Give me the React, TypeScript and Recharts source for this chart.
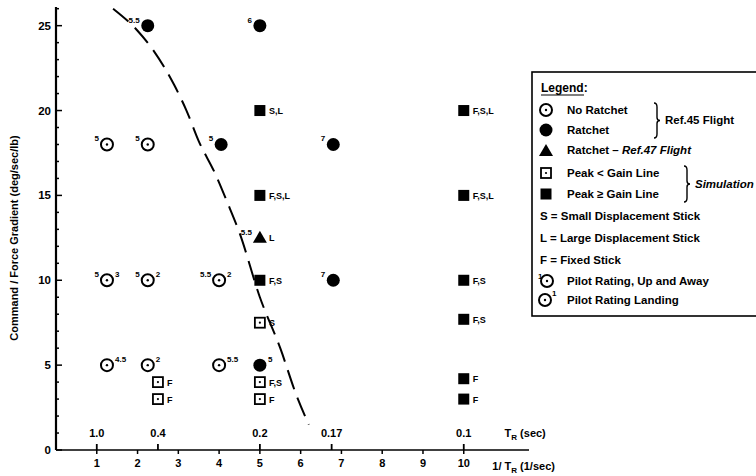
import React from 'react';
import {
  ComposedChart,
  Scatter,
  Line,
  XAxis,
  YAxis,
  ReferenceDot
} from 'recharts';

// Ref.45 flight, no ratchet
const noRatchetX = [1.25, 2.25, 1.25, 2.25, 4.0, 1.25, 2.25, 4.0];
const noRatchetY = [18, 18, 10, 10, 10, 5, 5, 5];
const noRatchetUp = ['5', '5', '5', '5', '5.5', '', '', ''];
const noRatchetLanding = ['', '', '3', '2', '2', '4.5', '2', '5.5'];

// Ref.45 flight, ratchet
const ratchetX = [2.25, 5.0, 4.05, 6.8, 6.8, 5.0];
const ratchetY = [25, 25, 18, 18, 10, 5];
const ratchetUp = ['5.5', '6', '5', '7', '7', ''];
const ratchetLanding = ['', '', '', '', '', '5'];

// Ref.47 flight, ratchet
const ref47X = [5.0];
const ref47Y = [12.5];
const ref47Up = ['5.5'];
const ref47Stick = ['L'];

// simulation, peak < gain line
const peakBelowX = [2.5, 2.5, 5.0, 5.0, 5.0];
const peakBelowY = [4, 3, 7.5, 4, 3];
const peakBelowStick = ['F', 'F', 'S', 'F,S', 'F'];

// simulation, peak >= gain line
const peakAboveX = [5.0, 5.0, 5.0, 10, 10, 10, 10, 10, 10];
const peakAboveY = [20, 15, 10, 20, 15, 10, 7.7, 4.2, 3];
const peakAboveStick = ['S,L', 'F,S,L', 'F,S', 'F,S,L', 'F,S,L', 'F,S', 'F,S', 'F', 'F'];

// dashed boundary
const boundaryX = [1.4, 2.0, 2.4, 2.9, 3.2, 3.5, 3.9, 4.2, 4.5, 5.0, 5.5, 5.9, 6.2];
const boundaryY = [26, 24.7, 23.5, 21.5, 20, 18.2, 16.3, 14.6, 12.8, 9, 6, 3.2, 1.5];

const xTicks = [1, 2, 3, 4, 5, 6, 7, 8, 9, 10];
const yTicks = Array.from({ length: 27 }, (_, i) => i);
const trTickX = [1, 2.5, 5, 6.76, 10];
const trTickLabels = ['1.0', '0.4', '0.2', '0.17', '0.1'];

const FONT = '"Liberation Sans", Arial, sans-serif';

const toPoints = (xs: number[], ys: number[], left: string[], right: string[]) =>
  xs.map((x, i) => ({ x, y: ys[i], left: left[i] || '', right: right[i] || '' }));

const noRatchetData = toPoints(noRatchetX, noRatchetY, noRatchetUp, noRatchetLanding);
const ratchetData = toPoints(ratchetX, ratchetY, ratchetUp, ratchetLanding);
const ref47Data = toPoints(ref47X, ref47Y, ref47Up, ref47Stick);
const peakBelowData = toPoints(peakBelowX, peakBelowY, [], peakBelowStick);
const peakAboveData = toPoints(peakAboveX, peakAboveY, [], peakAboveStick);
const boundaryData = boundaryX.map((x, i) => ({ x, y: boundaryY[i] }));

const Symbol = ({ kind, cx, cy }: { kind: string; cx: number; cy: number }) => {
  switch (kind) {
    case 'openCircle':
      return (
        <g>
          <circle cx={cx} cy={cy} r={6} fill="#fff" stroke="#000" strokeWidth={2} />
          <circle cx={cx} cy={cy} r={1.2} fill="#000" />
        </g>
      );
    case 'circle':
      return <circle cx={cx} cy={cy} r={6.5} fill="#000" />;
    case 'triangle':
      return <polygon points={`${cx},${cy - 7} ${cx - 7},${cy + 5} ${cx + 7},${cy + 5}`} fill="#000" />;
    case 'openSquare':
      return (
        <g>
          <rect x={cx - 5} y={cy - 5} width={10} height={10} fill="#fff" stroke="#000" strokeWidth={1.8} />
          <circle cx={cx} cy={cy} r={1.1} fill="#000" />
        </g>
      );
    default:
      return <rect x={cx - 5.5} y={cy - 5.5} width={11} height={11} fill="#000" />;
  }
};

const makeShape = (kind: string, rightMode: 'sup' | 'mid') => (props: any) => {
  const { cx, cy, payload } = props;
  if (cx == null || cy == null) return <g />;
  return (
    <g>
      <Symbol kind={kind} cx={cx} cy={cy} />
      {payload.left ? (
        <text x={cx - 8} y={cy - 3} textAnchor="end" fontSize={8} fontWeight="bold" fontFamily={FONT}>
          {payload.left}
        </text>
      ) : null}
      {payload.right ? (
        rightMode === 'sup' ? (
          <text x={cx + 8} y={cy - 3} fontSize={8} fontWeight="bold" fontFamily={FONT}>
            {payload.right}
          </text>
        ) : (
          <text x={cx + 9} y={cy + 3.5} fontSize={9} fontWeight="bold" fontFamily={FONT}>
            {payload.right}
          </text>
        )
      ) : null}
    </g>
  );
};

// ticks sit on the inside of the axis, labels hug it from the left
const YTick = (props: any) => {
  const { x, y, payload } = props;
  const major = payload.value % 5 === 0;
  return (
    <g>
      <line x1={x} x2={x + (major ? 6 : 3)} y1={y} y2={y} stroke="#000" strokeWidth={1.5} />
      {major ? (
        <text x={x - 5} y={y + 4} textAnchor="end" fontSize={11.5} fontWeight="bold" fontFamily={FONT}>
          {payload.value}
        </text>
      ) : null}
    </g>
  );
};

const textMark = (content: React.ReactNode, anchor: string = 'middle') => (props: any) => (
  <text x={props.cx} y={props.cy + 4} textAnchor={anchor} fontSize={11} fontWeight="bold" fontFamily={FONT}>
    {content}
  </text>
);

const upTick = (props: any) => (
  <line x1={props.cx} x2={props.cx} y1={props.cy} y2={props.cy - 6} stroke="#000" strokeWidth={1.8} />
);

const Sub = ({ children }: { children: React.ReactNode }) => (
  <tspan fontSize={8} dy={3}>{children}</tspan>
);

const brace = (x: number, y1: number, y2: number) => {
  const m = (y1 + y2) / 2;
  return `M${x - 2},${y1} Q${x + 1},${y1} ${x + 1},${y1 + 4} L${x + 1},${m - 3} Q${x + 1},${m} ${x + 4},${m} Q${x + 1},${m} ${x + 1},${m + 3} L${x + 1},${y2 - 4} Q${x + 1},${y2} ${x - 2},${y2}`;
};

const ChartLegend = () => {
  const t = { fontSize: 11.5, fontWeight: 'bold' as const, fontFamily: FONT };
  return (
    <svg width={756} height={476} style={{ position: 'absolute', left: 0, top: 0, pointerEvents: 'none' }}>
      <rect x={532} y={72} width={260} height={244} fill="#fff" stroke="#000" strokeWidth={1.6} />
      <text x={541} y={92} {...t} fontSize={12}>Legend:</text>
      <line x1={541} x2={584} y1={95} y2={95} stroke="#000" strokeWidth={1.2} />
      <Symbol kind="openCircle" cx={546} cy={110} />
      <text x={567} y={114} {...t}>No Ratchet</text>
      <Symbol kind="circle" cx={546} cy={130} />
      <text x={567} y={134} {...t}>Ratchet</text>
      <path d={brace(656, 103, 138)} fill="none" stroke="#000" strokeWidth={1.4} />
      <text x={665} y={124} {...t}>Ref.45 Flight</text>
      <Symbol kind="triangle" cx={546} cy={151} />
      <text x={567} y={154} {...t}>
        Ratchet – <tspan fontStyle="italic">Ref.47 Flight</tspan>
      </text>
      <Symbol kind="openSquare" cx={546} cy={173} />
      <text x={567} y={177} {...t}>Peak &lt; Gain Line</text>
      <Symbol kind="square" cx={546} cy={194} />
      <text x={567} y={198} {...t}>Peak ≥ Gain Line</text>
      <path d={brace(686, 166, 202)} fill="none" stroke="#000" strokeWidth={1.4} />
      <text x={695} y={188} {...t} fontStyle="italic">Simulation</text>
      <text x={540} y={220} {...t}>S = Small Displacement Stick</text>
      <text x={540} y={242} {...t}>L = Large Displacement Stick</text>
      <text x={540} y={264} {...t}>F = Fixed Stick</text>
      <text x={538} y={279} fontSize={8} fontWeight="bold" fontFamily={FONT}>1</text>
      <Symbol kind="openCircle" cx={547} cy={281} />
      <text x={567} y={285} {...t}>Pilot Rating, Up and Away</text>
      <Symbol kind="openCircle" cx={545} cy={300} />
      <text x={552} y={296} fontSize={8} fontWeight="bold" fontFamily={FONT}>1</text>
      <text x={567} y={304} {...t}>Pilot Rating Landing</text>
    </svg>
  );
};

const App: React.FC = () => {
  return (
    <div style={{ position: 'absolute', left: 0, top: 0, width: 756, height: 476, overflow: 'hidden', background: '#fff' }}>
      <ComposedChart
        width={756}
        height={476}
        margin={{ top: 7, right: 227, left: 0, bottom: 0 }}
      >
        <XAxis
          type="number"
          dataKey="x"
          domain={[0, 11.6]}
          allowDataOverflow
          ticks={xTicks}
          interval={0}
          height={26}
          tickSize={4}
          tickMargin={5}
          axisLine={{ stroke: '#000', strokeWidth: 1.6 }}
          tickLine={{ stroke: '#000', strokeWidth: 1.5 }}
          tick={{ fill: '#000', fontSize: 11, fontWeight: 'bold', fontFamily: FONT }}
        />
        <YAxis
          type="number"
          dataKey="y"
          domain={[0, 26.1]}
          allowDataOverflow
          ticks={yTicks}
          interval={0}
          width={56}
          tickSize={0}
          tickMargin={0}
          tickLine={false}
          axisLine={{ stroke: '#000', strokeWidth: 2.2 }}
          tick={<YTick />}
          label={() => (
            <text
              x={14}
              y={238}
              transform="rotate(-90 14 238)"
              textAnchor="middle"
              dominantBaseline="central"
              fontSize={11}
              fontWeight="bold"
              fontFamily={FONT}
            >
              Command / Force Gradient (deg/sec/lb)
            </text>
          )}
        />
        {trTickX.map((x) => (
          <ReferenceDot key={`trt-${x}`} x={x} y={0} r={0} ifOverflow="visible" shape={upTick} />
        ))}
        {trTickX.map((x, i) => (
          <ReferenceDot key={`trl-${x}`} x={x} y={1.0} r={0} shape={textMark(trTickLabels[i])} />
        ))}
        <ReferenceDot
          x={11.0}
          y={1.0}
          r={0}
          shape={textMark(<>T<Sub>R</Sub><tspan dy={-3}> (sec)</tspan></>, 'start')}
        />
        <ReferenceDot
          x={10.7}
          y={-0.95}
          r={0}
          ifOverflow="visible"
          shape={textMark(<>1/ T<Sub>R</Sub><tspan dy={-3}> (1/sec)</tspan></>, 'start')}
        />
        <Line
          data={boundaryData}
          dataKey="y"
          type="monotone"
          stroke="#000"
          strokeWidth={2}
          strokeDasharray="20 9"
          dot={false}
          activeDot={false}
          isAnimationActive={false}
        />
        <Scatter data={noRatchetData} dataKey="y" shape={makeShape('openCircle', 'sup')} isAnimationActive={false} />
        <Scatter data={ratchetData} dataKey="y" shape={makeShape('circle', 'sup')} isAnimationActive={false} />
        <Scatter data={ref47Data} dataKey="y" shape={makeShape('triangle', 'mid')} isAnimationActive={false} />
        <Scatter data={peakBelowData} dataKey="y" shape={makeShape('openSquare', 'mid')} isAnimationActive={false} />
        <Scatter data={peakAboveData} dataKey="y" shape={makeShape('square', 'mid')} isAnimationActive={false} />
      </ComposedChart>
      <ChartLegend />
    </div>
  );
};

export default App;
